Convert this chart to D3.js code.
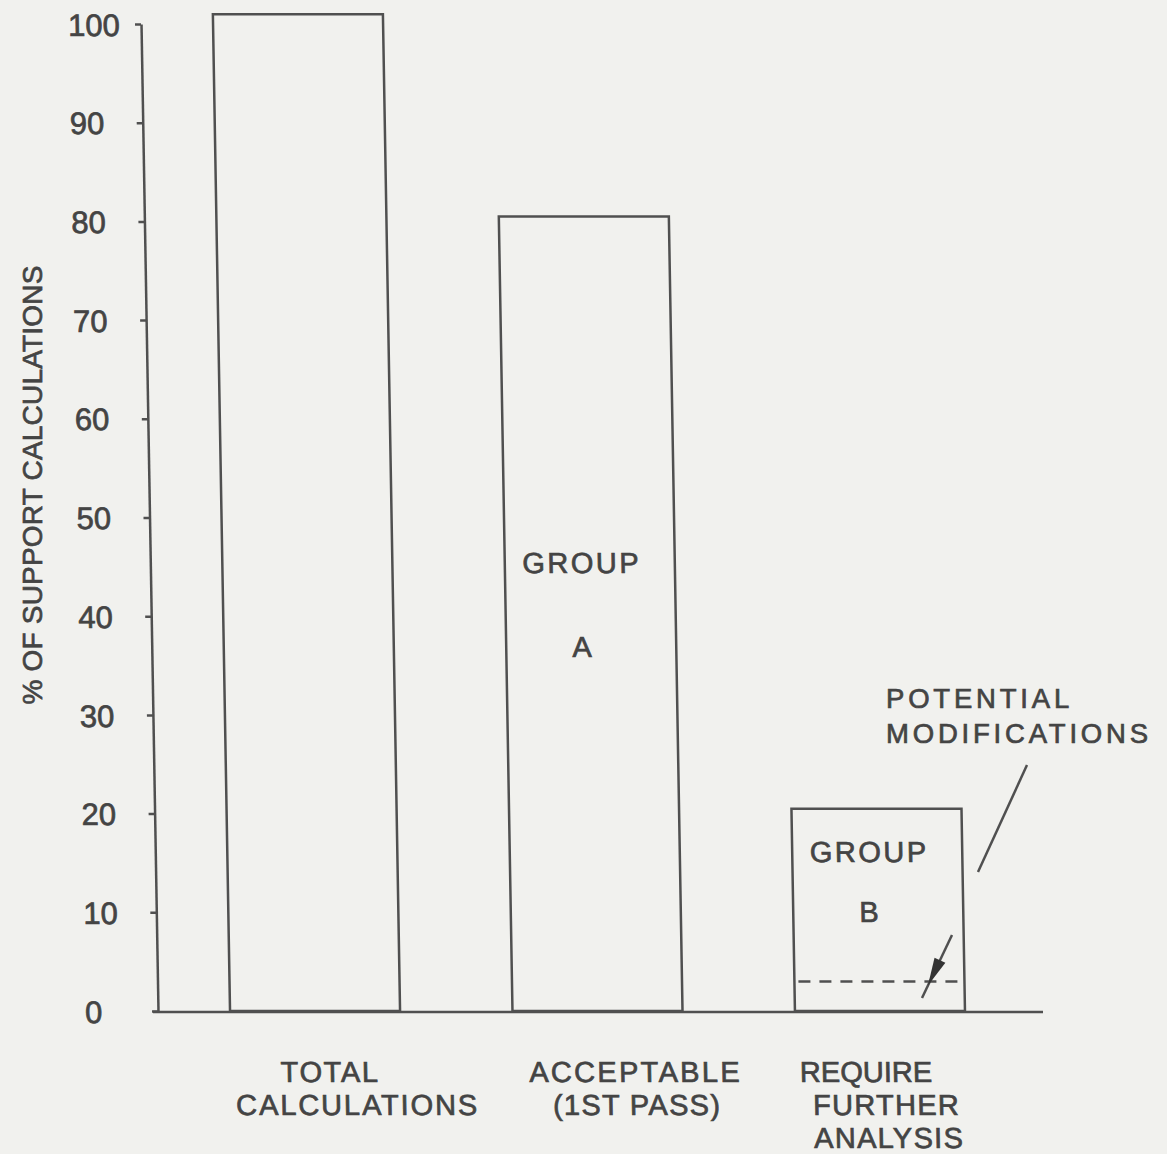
<!DOCTYPE html>
<html>

<head>
    <meta charset="utf-8">
    <title>% of support calculations</title>
    <script type="text/javascript" src="https://d3js.org/d3.v7.min.js"></script>

    <style>
        body {
            margin: 0;
            background: #f1f1ee;
        }

        svg {
            display: block;
        }

        text {
            font-family: "Liberation Sans", Arial, sans-serif;
            fill: #444;
            stroke: #444;
            stroke-width: 0.7px;
        }
    </style>

</head>

<body>
</body>

<script type="text/javascript">
    var w = 1167;
    var h = 1154;

    // values
    var categories = ["TOTAL", "ACCEPTABLE", "REQUIRE"];
    var categoryLines = [
        ["TOTAL", "CALCULATIONS"],
        ["ACCEPTABLE", "(1ST PASS)"],
        ["REQUIRE", "FURTHER", "ANALYSIS"]
    ];
    var percentValues = [101, 80.5, 20.5];
    var groupNames = ["", "A", "B"];
    var potentialModifications = 3;
    var yTicks = [0, 10, 20, 30, 40, 50, 60, 70, 80, 90, 100];
    var yTitle = "% OF SUPPORT CALCULATIONS";
    var noteLines = ["POTENTIAL", "MODIFICATIONS"];

    var svg = d3.select("body")
        .append("svg")
        .attr("width", w)
        .attr("height", h);

    var y = d3.scaleLinear()
        .domain([0, 100])
        .range([1011, 24]);

    var x = d3.scaleBand()
        .domain(categories)
        .range([158, 1037])
        .paddingInner(0.398)
        .paddingOuter(0.255);

    // the scan leans a little, so the plot is skewed about the baseline
    var y0 = y(0);
    var lean = Math.atan(17 / 988) * 180 / Math.PI;
    var plot = svg.append("g")
        .attr("transform", "translate(0," + y0 + ") skewX(" + lean + ") translate(0," + (-y0) + ")");

    var ink = "#505050";

    // y axis
    var yAxis = plot.append("g")
        .attr("transform", "translate(158,0)")
        .call(d3.axisLeft(y).tickValues(yTicks).tickSizeInner(6).tickSizeOuter(0));

    yAxis.select(".domain").attr("stroke", ink).attr("stroke-width", 2.5);
    yAxis.selectAll(".tick line").attr("stroke", ink).attr("stroke-width", 2.5);
    yAxis.selectAll(".tick text")
        .attr("x", -73)
        .attr("dy", "0.36em")
        .attr("text-anchor", "start")
        .attr("fill", null)
        .style("font-size", "31px")
        .style("font-family", "'Liberation Sans', Arial, sans-serif");

    // bars
    plot.selectAll("rect.bar")
        .data(percentValues)
        .enter()
        .append("rect")
        .attr("class", "bar")
        .attr("x", function(d, i) { return x(categories[i]); })
        .attr("y", function(d) { return y(d); })
        .attr("width", x.bandwidth())
        .attr("height", function(d) { return y(0) - y(d); })
        .attr("fill", "none")
        .attr("stroke", ink)
        .attr("stroke-width", 2.5);

    // x axis line
    plot.append("line")
        .attr("x1", 153)
        .attr("x2", 1043)
        .attr("y1", y(0) + 1)
        .attr("y2", y(0) + 1)
        .attr("stroke", ink)
        .attr("stroke-width", 2.5);

    // category labels under the bars
    var lineDx = [[14, 41], [37, 38], [-15, 5, 7]];
    var lineSpacing = [[1.6, 1.9], [2.3, 1.3], [0, 1.3, 1.3]];
    categoryLines.forEach(function(lines, i) {
        var cx = x(categories[i]) + x.bandwidth() / 2;
        lines.forEach(function(t, j) {
            plot.append("text")
                .attr("x", cx + lineDx[i][j])
                .attr("y", 1082 + j * 33)
                .attr("text-anchor", "middle")
                .style("font-size", "29px")
                .style("letter-spacing", lineSpacing[i][j] + "px")
                .text(t);
        });
    });

    // group labels inside the bars
    var groupY = [null, [44.4, 35.9], [15.1, 9.0]];
    groupNames.forEach(function(g, i) {
        if (!g) return;
        var cx = x(categories[i]) + x.bandwidth() / 2 - 8;
        ["GROUP", g].forEach(function(t, j) {
            plot.append("text")
                .attr("x", cx)
                .attr("y", y(groupY[i][j]))
                .attr("text-anchor", "middle")
                .style("font-size", "29px")
                .style("letter-spacing", "2.5px")
                .text(t);
        });
    });

    // potential modifications dashed level in group B
    var bx = x(categories[2]);
    plot.append("line")
        .attr("x1", bx + 4)
        .attr("x2", bx + x.bandwidth() - 4)
        .attr("y1", y(potentialModifications))
        .attr("y2", y(potentialModifications))
        .attr("stroke", ink)
        .attr("stroke-width", 2.5)
        .attr("stroke-dasharray", "12,9");

    // y title
    svg.append("text")
        .attr("transform", "translate(42,485) rotate(-90)")
        .attr("text-anchor", "middle")
        .style("font-size", "28px")
        .style("letter-spacing", "0.2px")
        .text(yTitle);

    // callout text
    noteLines.forEach(function(t, j) {
        svg.append("text")
            .attr("x", 886)
            .attr("y", 708 + j * 35)
            .style("font-size", "27.5px")
            .style("letter-spacing", "3.8px")
            .text(t);
    });

    // callout leader line
    svg.append("line")
        .attr("x1", 1027).attr("y1", 765)
        .attr("x2", 978).attr("y2", 872)
        .attr("stroke", ink)
        .attr("stroke-width", 2.5);

    // arrow to the dashed level
    var a0 = [952, 935], a1 = [922, 998];
    var len = Math.hypot(a1[0] - a0[0], a1[1] - a0[1]);
    var ux = (a1[0] - a0[0]) / len, uy = (a1[1] - a0[1]) / len;
    var tip = [a0[0] + ux * 56, a0[1] + uy * 56];
    var base = [a0[0] + ux * 28, a0[1] + uy * 28];
    svg.append("line")
        .attr("x1", a0[0]).attr("y1", a0[1])
        .attr("x2", a1[0]).attr("y2", a1[1])
        .attr("stroke", ink)
        .attr("stroke-width", 2.5);
    svg.append("path")
        .attr("d", d3.line()([
            tip,
            [base[0] - uy * 6, base[1] + ux * 6],
            [base[0] + uy * 6, base[1] - ux * 6]
        ]) + "Z")
        .attr("fill", "#333");
</script>

</html>
